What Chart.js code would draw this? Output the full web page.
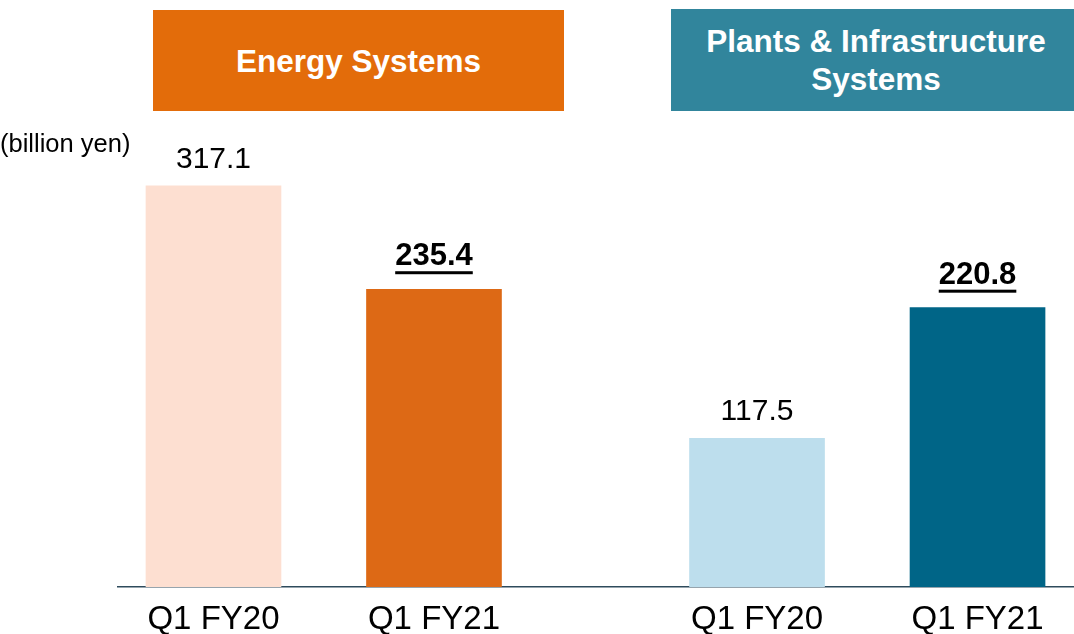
<!DOCTYPE html>
<html>
<head>
<meta charset="utf-8">
<script src="https://cdn.jsdelivr.net/npm/chart.js@4/dist/chart.umd.min.js"></script>
<style>
  body { margin: 0; background: #fff; font-family: "Liberation Sans", Arial, sans-serif; }
  #wrap { position: relative; width: 1074px; height: 634px; overflow: hidden; }
  #chart { position: absolute; left: 0; top: 0; }
  .head {
    position: absolute; color: #fff; font-weight: bold; font-size: 31.5px;
    display: flex; align-items: center; justify-content: center; text-align: center;
    line-height: 38px; box-sizing: border-box;
  }
  #energyHead { left: 153px; top: 10px; width: 411px; height: 101px; background: #E36C0A; }
  #plantsHead { left: 671px; top: 9px; width: 403px; height: 102px; background: #31859C; padding-left: 7px; }
  #unit { position: absolute; left: 0; top: 131px; font-size: 25.5px; line-height: 1; color: #000; }
</style>
</head>
<body>
<div id="wrap">
  <canvas id="chart" width="1074" height="634"></canvas>
  <div class="head" id="energyHead">Energy Systems</div>
  <div class="head" id="plantsHead">Plants &amp; Infrastructure<br>Systems</div>
  <div id="unit">(billion yen)</div>
</div>
<script>
// data
const periods = ['Q1 FY20', 'Q1 FY21'];
const segments = ['Energy Systems', 'Plants & Infrastructure Systems'];
const energyValues = [317.1, 235.4];
const plantsValues = [117.5, 220.8];

const energyColors = ['#FDDFD1', '#DD6915'];
const plantsColors = ['#BDDEED', '#006587'];

// bars sit one unit apart inside a segment, segments are a bit further apart
const GROUP_STEP = 2.465;
const posOf = (g, i) => g * GROUP_STEP + i;
const allX = [];
const allLabels = [];
[0, 1].forEach(g => periods.forEach((p, i) => { allX.push(posOf(g, i)); allLabels.push(p); }));

const toPoints = (vals, g) => vals.map((v, i) => ({ x: posOf(g, i), y: v }));

// value labels above bars, latest period bold + underlined
const valueLabels = {
  id: 'valueLabels',
  afterDatasetsDraw(chart) {
    const ctx = chart.ctx;
    ctx.save();
    ctx.textAlign = 'center';
    ctx.textBaseline = 'alphabetic';
    ctx.fillStyle = '#000';
    chart.data.datasets.forEach((ds, di) => {
      chart.getDatasetMeta(di).data.forEach((bar, i) => {
        const txt = ds.data[i].y.toFixed(1);
        const latest = i === periods.length - 1;
        ctx.font = (latest ? 'bold 31px' : '30px') + ' "Liberation Sans", Arial, sans-serif';
        const base = latest ? bar.y - 24 : bar.y - 18;
        ctx.fillText(txt, bar.x, base);
        if (latest) {
          const w = ctx.measureText(txt).width;
          ctx.fillRect(bar.x - w / 2, base + 6, w, 3);
        }
      });
    });
    ctx.restore();
  }
};

new Chart(document.getElementById('chart'), {
  type: 'bar',
  data: {
    datasets: [
      { label: segments[0], data: toPoints(energyValues, 0), backgroundColor: energyColors },
      { label: segments[1], data: toPoints(plantsValues, 1), backgroundColor: plantsColors }
    ]
  },
  options: {
    responsive: false,
    animation: false,
    devicePixelRatio: 1,
    layout: { padding: { top: 81, left: 118, right: 0, bottom: 0 } },
    datasets: { bar: { grouped: false, barThickness: 135 } },
    plugins: { legend: { display: false }, tooltip: { enabled: false } },
    scales: {
      x: {
        type: 'linear',
        offset: false,
        min: -0.433,
        max: 3.9025,
        z: 1,
        grid: { display: false, drawTicks: false },
        border: { display: true, color: '#2E4B5C', width: 1.5 },
        afterBuildTicks: s => { s.ticks = allX.map(v => ({ value: v })); },
        afterFit: s => { s.height = 47; },
        ticks: {
          autoSkip: false,
          maxRotation: 0,
          padding: 13,
          color: '#000',
          font: { family: '"Liberation Sans", Arial, sans-serif', size: 33 },
          callback: (v, i) => allLabels[i]
        }
      },
      y: {
        display: false,
        min: 0,
        max: 400
      }
    }
  },
  plugins: [valueLabels]
});
</script>
</body>
</html>
